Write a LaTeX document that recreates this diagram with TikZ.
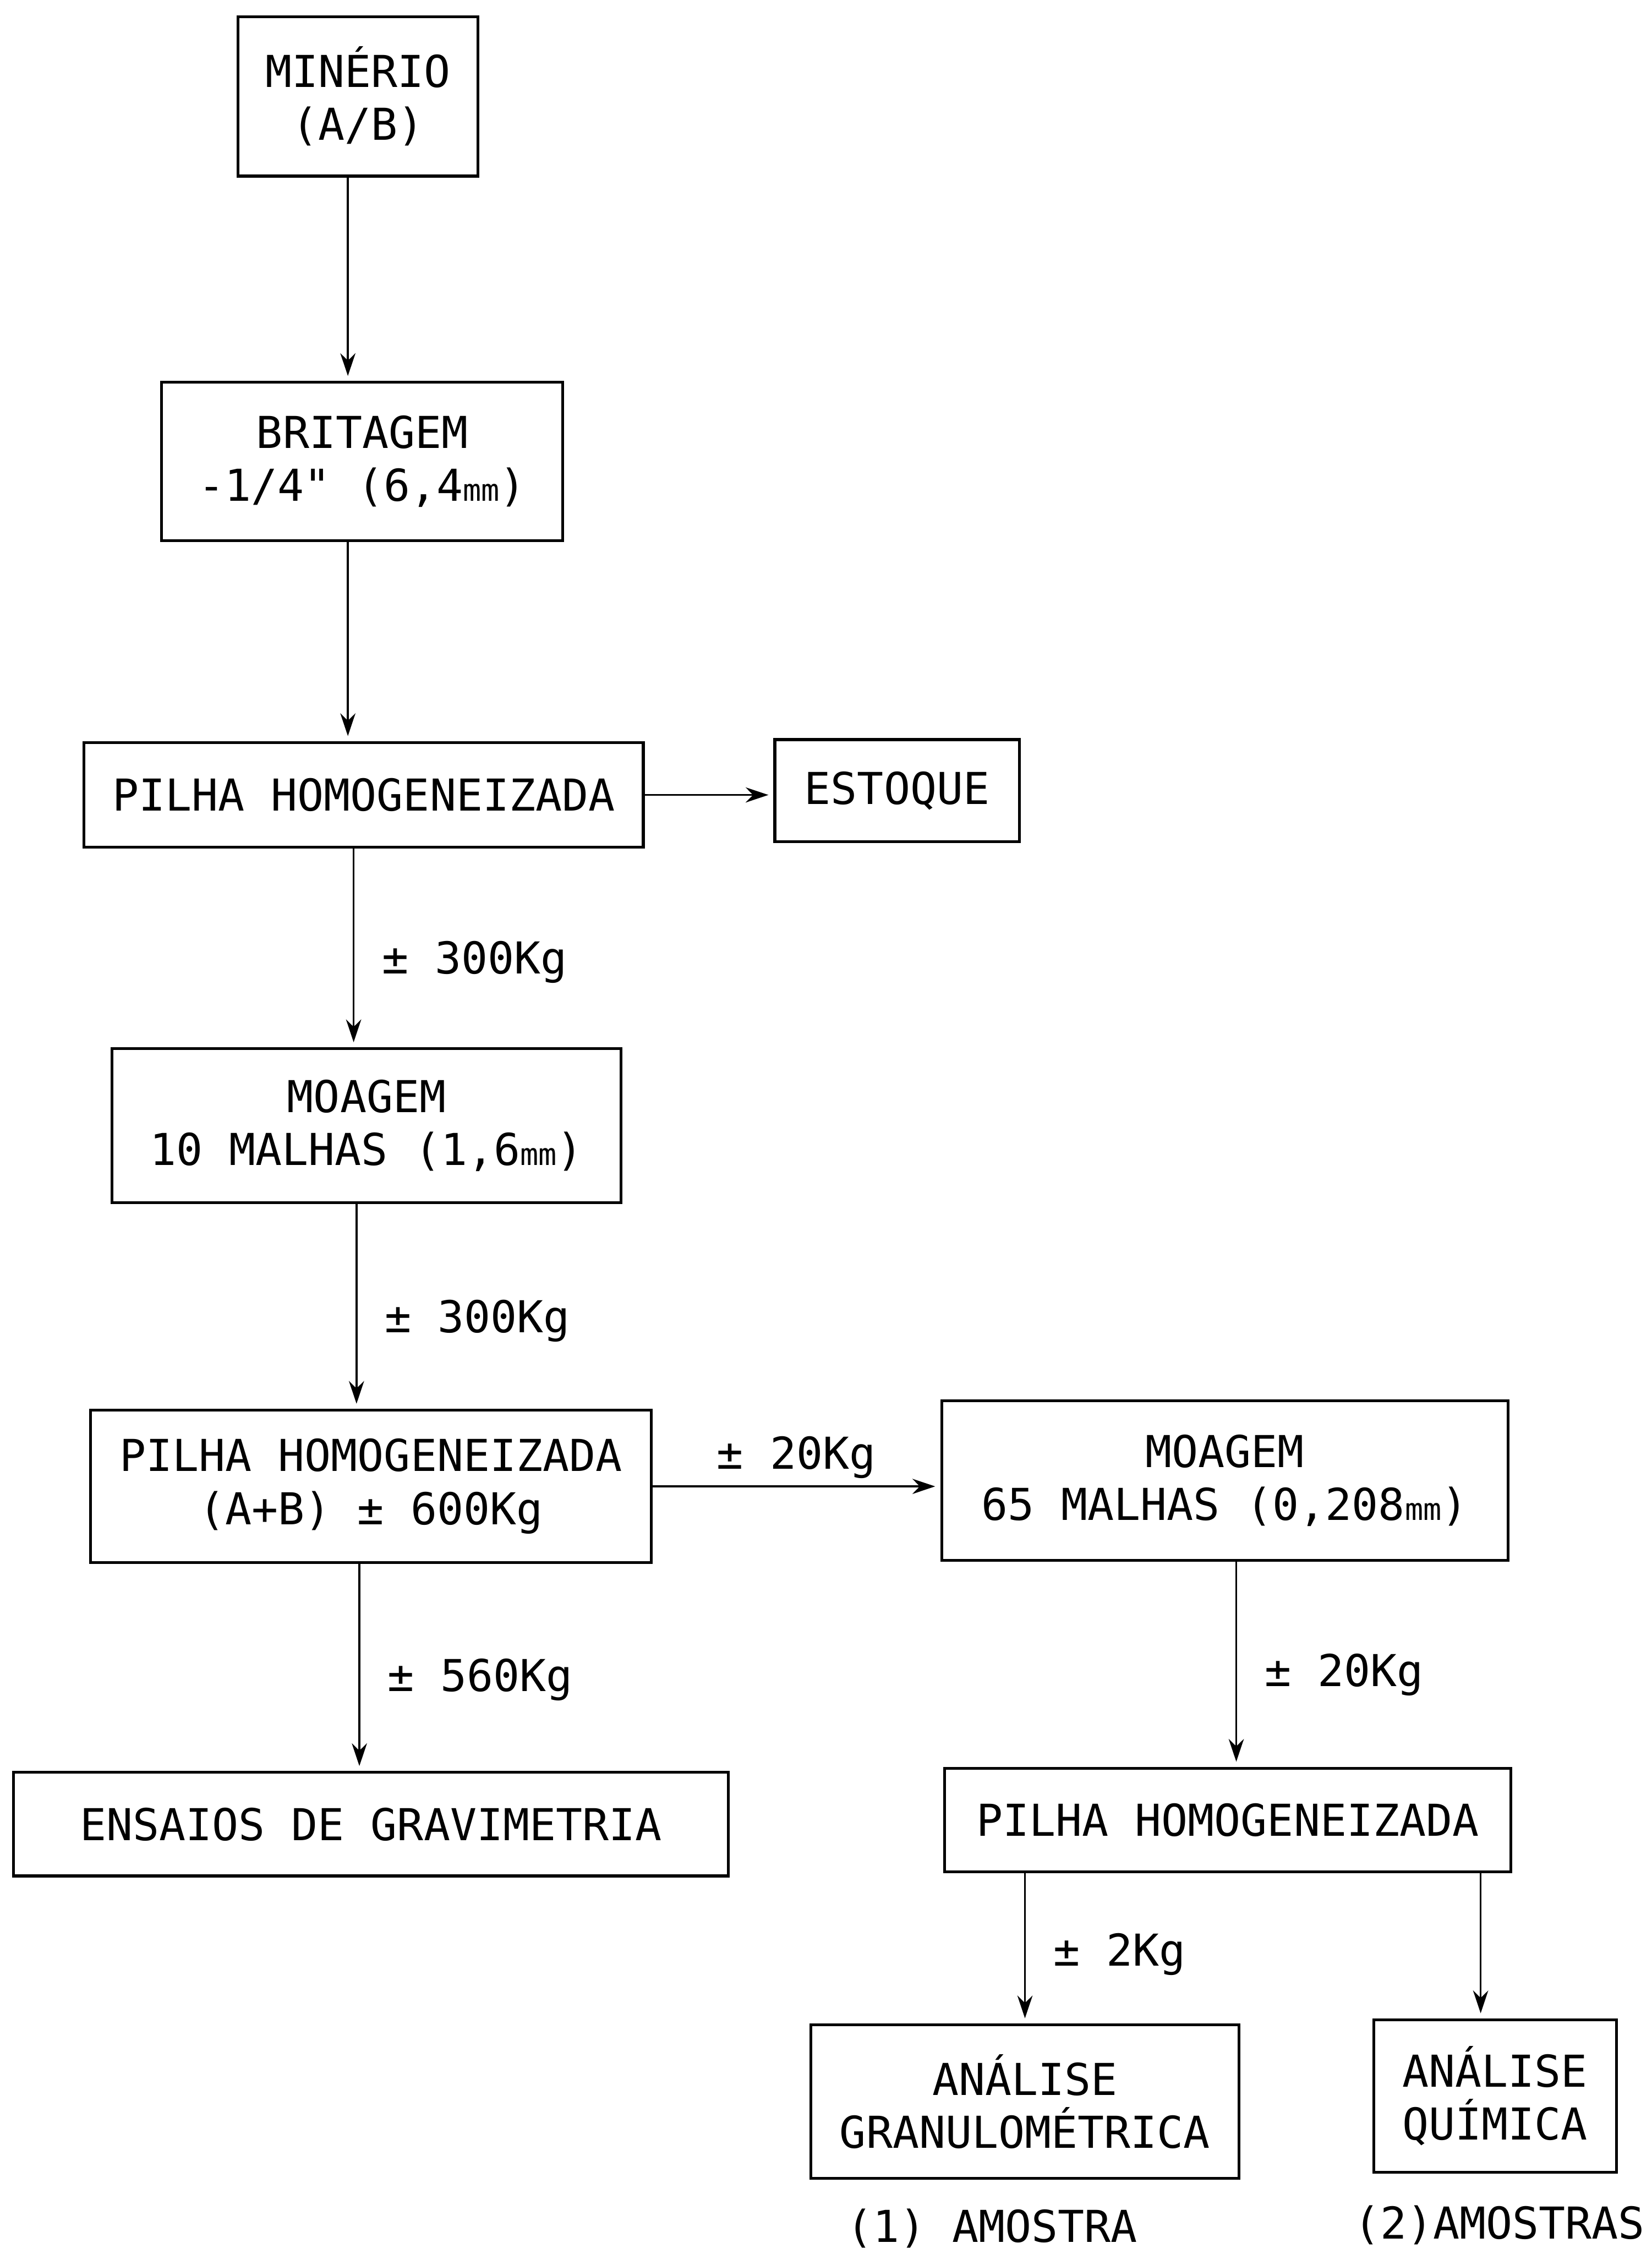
\documentclass[tikz,border=0pt]{standalone}
\usepackage{fontspec}
\setmonofont{DejaVu Sans Mono}
\usetikzlibrary{arrows.meta}
\usetikzlibrary{positioning}

\begin{document}
\begin{tikzpicture}[x=0.02cm, y=-0.02cm,
    caixa/.style={draw, line width=1.1pt, rectangle, align=center, inner sep=0pt,
      font=\ttfamily\fontsize{17.4pt}{21pt}\selectfont},
    rotulo/.style={inner sep=0pt, font=\ttfamily\fontsize{17.4pt}{21pt}\selectfont},
    seta/.style={-{Stealth[length=9pt, width=6pt]}, line width=0.8pt, shorten >=2pt}]
    \useasboundingbox (0,0) rectangle (1149,1568);

    % coluna da esquerda
    \node[caixa, minimum width=167*0.02cm, minimum height=111*0.02cm] (minerio) at (249,67) {MINÉRIO\\(A/B)};
    \node[caixa, minimum width=279*0.02cm, minimum height=110*0.02cm] (britagem) at (252,321) {BRITAGEM\\-1/4" (6,4{\fontsize{12pt}{12pt}\selectfont mm})};
    \node[caixa, minimum width=389*0.02cm, minimum height=73*0.02cm] (pilhaA) at (253,553) {PILHA HOMOGENEIZADA};
    \node[caixa, minimum width=170*0.02cm, minimum height=71*0.02cm] (estoque) at (624,550) {ESTOQUE};
    \node[caixa, minimum width=354*0.02cm, minimum height=107*0.02cm] (moagemA) at (255,783) {MOAGEM\\10 MALHAS (1,6{\fontsize{12pt}{12pt}\selectfont mm})};
    \node[caixa, minimum width=390*0.02cm, minimum height=106*0.02cm] (pilhaB) at (258,1034) {PILHA HOMOGENEIZADA\\(A+B) ± 600Kg};
    \node[caixa, minimum width=497*0.02cm, minimum height=72*0.02cm] (ensaios) at (258,1269) {ENSAIOS DE GRAVIMETRIA};

    % coluna da direita
    \node[caixa, minimum width=394*0.02cm, minimum height=111*0.02cm] (moagemB) at (852,1030) {MOAGEM\\65 MALHAS (0,208{\fontsize{12pt}{12pt}\selectfont mm})};
    \node[caixa, minimum width=394*0.02cm, minimum height=72*0.02cm] (pilhaC) at (854,1266) {PILHA HOMOGENEIZADA};
    \node[caixa, minimum width=298*0.02cm, minimum height=107*0.02cm] (granulo) at (713,1462) {ANÁLISE\\GRANULOMÉTRICA};
    \node[caixa, minimum width=169*0.02cm, minimum height=106*0.02cm] (quimica) at (1040,1458) {ANÁLISE\\QUÍMICA};
    \node[rotulo] (amostraA) at (690,1550) {(1) AMOSTRA};
    \node[rotulo] (amostraB) at (1043,1548) {(2)AMOSTRAS};

    % setas
    \draw[seta] ([xshift=-0.14cm]minerio.south) -- ([xshift=-0.14cm]minerio.south |- britagem.north);
    \draw[seta] ([xshift=-0.2cm]britagem.south) -- ([xshift=-0.2cm]britagem.south |- pilhaA.north);
    \draw[seta] (pilhaA) -- (pilhaA -| estoque.west);
    \draw[seta] ([xshift=-0.14cm]pilhaA.south) -- ([xshift=-0.14cm]pilhaA.south |- moagemA.north)
        node[rotulo, pos=0.57, right=0.38cm] (kgA) {± 300Kg};
    \draw[seta] ([xshift=-0.14cm]moagemA.south) -- ([xshift=-0.14cm]moagemA.south |- pilhaB.north)
        node[rotulo, pos=0.57, right=0.38cm] (kgB) {± 300Kg};
    \draw[seta] (pilhaB) -- (pilhaB -| moagemB.west)
        node[rotulo, midway, above=0.1cm] (kgC) {± 20Kg};
    \draw[seta] ([xshift=-0.16cm]pilhaB.south) -- ([xshift=-0.16cm]pilhaB.south |- ensaios.north)
        node[rotulo, pos=0.56, right=0.38cm] (kgD) {± 560Kg};
    \draw[seta] ([xshift=0.16cm]moagemB.south) -- ([xshift=0.16cm]moagemB.south |- pilhaC.north)
        node[rotulo, pos=0.55, right=0.38cm] (kgE) {± 20Kg};
    \draw[seta] (granulo |- pilhaC.south) -- (granulo)
        node[rotulo, pos=0.54, right=0.38cm] (kgF) {± 2Kg};
    \draw[seta] ([xshift=-0.2cm]quimica.north |- pilhaC.south) -- ([xshift=-0.2cm]quimica.north);
\end{tikzpicture}
\end{document}
